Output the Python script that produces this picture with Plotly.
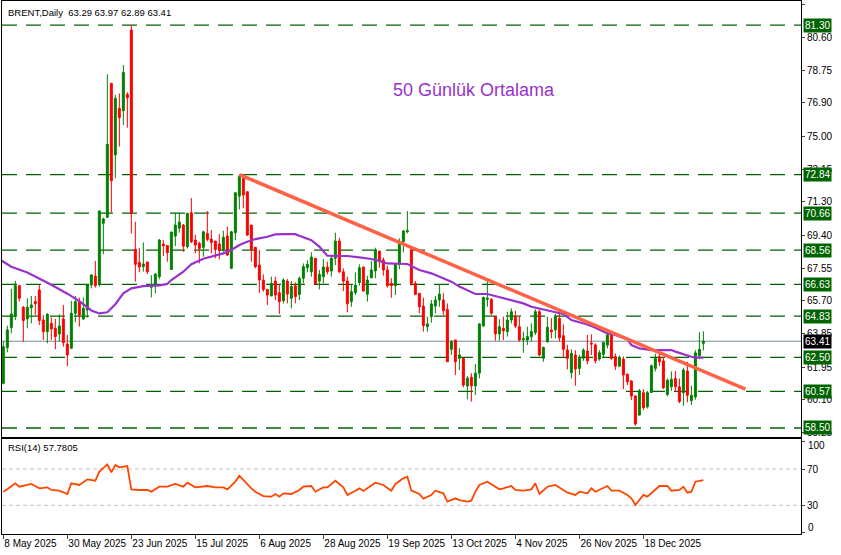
import plotly.graph_objects as go
from plotly.subplots import make_subplots

# ── data ─────────────────────────────────────────────────────────────────────
# one row per daily bar, bar 0 = 8 May 2025
OPEN = [61.03, 63.05, 64.18, 64.84, 66.55, 65.33, 64.67, 65.31, 65.65, 66.31,
        64.61, 63.95, 64.42, 64.14, 63.82, 64.67, 63.25, 63.01, 64.99, 65.65,
        64.67, 65.18, 66.59, 67.10, 66.63, 70.08, 70.42, 78.00, 73.95, 76.59,
        76.45, 77.38, 81.02, 68.61, 67.87, 67.63, 67.89, 66.46, 66.53, 67.06,
        68.91, 68.83, 67.47, 69.36, 69.81, 69.98, 68.76, 70.68, 69.13, 68.95,
        68.72, 69.51, 69.19, 69.08, 68.91, 68.60, 69.36, 67.53, 69.55, 71.62,
        72.62, 71.87, 69.98, 68.72, 67.72, 66.87, 66.34, 65.97, 66.81, 66.15,
        65.70, 66.81, 65.84, 66.55, 66.06, 66.97, 67.57, 67.34, 68.10, 66.81,
        67.06, 67.61, 67.38, 68.10, 69.08, 67.34, 66.81, 65.65, 66.16, 66.72,
        67.61, 66.06, 67.00, 67.38, 68.51, 68.00, 67.44, 66.68, 66.55, 67.76,
        69.04, 69.60, 68.57, 66.68, 66.12, 65.40, 64.23, 64.80, 65.40, 65.74,
        65.74, 65.21, 62.95, 63.48, 62.44, 62.44, 60.88, 61.37, 60.88, 61.60,
        64.27, 65.78, 65.78, 64.80, 63.82, 64.14, 63.95, 64.61, 64.80, 64.23,
        63.48, 63.48, 63.67, 63.90, 65.08, 62.44, 63.38, 64.05, 64.05, 64.70,
        63.72, 62.91, 61.63, 62.63, 61.87, 62.44, 62.85, 63.30, 63.20, 62.40,
        62.66, 63.19, 63.80, 62.53, 62.00, 62.40, 61.53, 61.16, 60.31, 59.23,
        60.50, 59.70, 60.51, 61.87, 62.53, 62.29, 60.40, 60.83, 61.30, 60.83,
        60.50, 61.72, 60.05, 60.25, 62.60, 63.29]
HIGH = [63.40, 64.29, 66.37, 66.82, 66.60, 65.40, 65.84, 65.97, 65.97, 66.63,
        64.89, 65.00, 64.76, 64.67, 64.93, 65.46, 63.76, 65.69, 65.97, 65.88,
        65.88, 66.60, 67.20, 67.95, 70.80, 70.40, 78.51, 78.00, 77.34, 77.43,
        79.04, 77.50, 81.30, 70.17, 68.67, 69.00, 67.90, 67.15, 67.25, 69.19,
        69.13, 68.83, 69.60, 70.68, 70.68, 70.04, 70.68, 71.51, 69.42, 69.04,
        69.66, 70.77, 69.70, 69.08, 69.47, 69.66, 69.89, 69.66, 71.81, 72.84,
        72.62, 71.87, 69.98, 68.72, 68.57, 67.19, 66.34, 67.06, 67.06, 66.59,
        66.97, 66.93, 66.81, 66.74, 67.06, 67.81, 68.00, 68.44, 68.10, 67.44,
        68.06, 67.91, 68.29, 69.55, 69.27, 67.53, 67.06, 66.59, 67.30, 67.76,
        67.61, 67.12, 67.95, 68.70, 68.51, 68.14, 67.68, 66.97, 67.81, 69.23,
        69.70, 70.77, 68.70, 66.81, 66.12, 65.87, 64.80, 65.74, 65.97, 66.59,
        66.12, 65.55, 63.48, 63.48, 63.01, 62.44, 61.44, 61.60, 62.12, 64.42,
        65.93, 66.87, 65.84, 64.80, 64.65, 64.80, 65.08, 65.27, 65.14, 64.80,
        63.95, 64.23, 64.42, 65.21, 65.21, 63.10, 64.80, 64.71, 64.95, 65.10,
        64.36, 63.20, 62.95, 62.90, 62.63, 63.00, 63.76, 63.80, 63.29, 62.90,
        63.38, 63.85, 63.85, 62.72, 62.60, 62.55, 61.60, 61.20, 60.35, 60.70,
        60.70, 60.60, 62.10, 62.70, 62.70, 62.50, 61.30, 61.70, 61.72, 61.30,
        61.90, 62.25, 60.90, 62.90, 63.92, 63.97]
LOW = [60.97, 62.78, 63.86, 64.61, 65.65, 63.38, 64.14, 64.42, 64.89, 64.33,
       63.48, 63.29, 63.48, 62.95, 63.38, 63.10, 61.99, 62.97, 64.48, 64.23,
       64.61, 64.74, 66.40, 66.44, 66.50, 68.33, 70.42, 70.70, 72.63, 74.42,
       75.64, 75.49, 69.51, 66.78, 67.31, 67.35, 67.21, 65.89, 66.12, 66.91,
       68.23, 67.91, 67.44, 68.79, 69.55, 68.47, 68.66, 68.95, 68.38, 67.81,
       68.19, 69.06, 68.38, 68.10, 68.04, 68.47, 68.23, 67.53, 69.13, 70.87,
       70.93, 69.36, 67.91, 67.53, 66.15, 66.21, 65.46, 65.97, 65.74, 64.95,
       65.55, 65.55, 65.27, 65.55, 65.74, 66.68, 67.31, 67.06, 66.59, 66.34,
       66.68, 67.19, 67.06, 67.72, 67.27, 66.25, 65.04, 65.36, 66.02, 66.55,
       66.21, 65.65, 66.97, 66.97, 67.57, 67.12, 66.44, 65.87, 66.02, 67.49,
       68.44, 69.51, 66.55, 66.02, 64.99, 63.95, 63.95, 64.46, 64.99, 65.36,
       64.89, 62.25, 62.63, 61.50, 61.78, 60.80, 60.12, 59.99, 60.37, 61.31,
       64.23, 65.36, 64.89, 63.44, 63.44, 63.48, 63.67, 64.42, 64.14, 63.38,
       62.76, 63.20, 63.38, 63.76, 62.57, 62.25, 63.33, 63.57, 63.57, 63.40,
       62.53, 61.82, 61.30, 60.89, 61.50, 62.30, 62.10, 62.63, 62.15, 62.30,
       62.50, 63.00, 62.35, 61.78, 61.95, 60.70, 60.93, 60.08, 58.63, 59.20,
       59.50, 59.60, 60.50, 61.70, 62.00, 60.70, 60.30, 60.60, 60.55, 59.90,
       59.75, 59.95, 59.80, 60.10, 62.40, 62.89]
CLOSE = [63.10, 64.05, 64.95, 66.55, 65.84, 64.58, 65.33, 65.46, 65.54, 64.58,
         63.95, 64.93, 64.10, 63.67, 64.27, 63.33, 62.63, 64.99, 65.65, 64.89,
         65.27, 66.59, 67.16, 66.55, 70.78, 70.33, 74.55, 72.49, 77.15, 76.06,
         78.62, 77.19, 70.65, 67.76, 67.61, 67.78, 67.34, 66.59, 67.21, 69.13,
         68.81, 68.42, 69.59, 69.98, 70.15, 68.79, 70.64, 69.04, 68.85, 68.66,
         69.60, 69.17, 69.00, 68.60, 68.57, 69.29, 68.29, 69.60, 71.81, 72.75,
         71.68, 69.42, 68.61, 67.63, 66.87, 66.34, 66.02, 66.68, 66.02, 65.65,
         66.87, 66.08, 66.50, 65.93, 66.97, 67.63, 67.76, 68.17, 66.63, 67.19,
         67.61, 67.34, 68.10, 69.08, 67.34, 66.81, 65.53, 66.21, 66.59, 67.57,
         66.25, 66.87, 67.44, 68.57, 67.95, 67.44, 66.55, 66.55, 67.76, 69.04,
         69.64, 69.66, 66.68, 66.06, 65.36, 64.29, 64.39, 65.52, 65.74, 66.08,
         65.14, 62.25, 63.38, 62.25, 62.63, 60.93, 61.31, 60.88, 61.60, 64.39,
         65.89, 65.84, 64.99, 63.82, 64.23, 63.99, 64.61, 65.08, 64.27, 63.48,
         63.55, 63.67, 63.95, 65.08, 62.63, 63.06, 64.20, 63.95, 64.80, 63.60,
         62.95, 62.44, 62.72, 61.84, 62.44, 62.91, 62.30, 63.25, 62.30, 62.76,
         63.33, 63.76, 62.44, 62.00, 62.50, 61.50, 61.12, 60.31, 58.72, 60.60,
         59.65, 60.50, 62.02, 62.44, 62.25, 60.78, 61.20, 61.25, 60.83, 60.00,
         61.78, 60.35, 60.35, 62.75, 62.95, 63.41]

# 50-day moving average, read at these bars
MA_BAR = [-1, 2, 6, 9, 12, 16, 19, 22, 24, 26, 28, 30, 32, 35, 39, 41, 42, 45,
          47, 50, 52, 55, 57, 59, 61, 63, 66, 68, 70, 73, 74, 77, 79, 81, 83,
          86, 89, 92, 94, 96, 101, 102, 104, 107, 109, 112, 114, 117, 118, 121,
          122, 125, 127, 130, 132, 135, 137, 140, 142, 146, 148, 151, 153, 156,
          157, 159, 162, 164, 167, 168, 170, 172, 173, 175]
MA_VAL = [68.05, 67.62, 67.30, 66.97, 66.60, 66.10, 65.68, 65.15, 64.98, 65.05,
          65.50, 66.12, 66.40, 66.53, 66.57, 66.65, 66.87, 67.34, 67.77, 68.08,
          68.19, 68.38, 68.57, 68.85, 69.04, 69.19, 69.32, 69.45, 69.47, 69.47,
          69.38, 69.13, 68.76, 68.25, 68.23, 68.23, 68.15, 68.06, 67.95, 67.81,
          67.78, 67.68, 67.44, 67.25, 67.06, 66.78, 66.50, 66.21, 66.08, 66.08,
          66.02, 65.84, 65.70, 65.55, 65.36, 65.21, 65.08, 64.95, 64.61, 64.36,
          64.17, 63.85, 63.76, 63.53, 63.19, 63.00, 62.91, 62.91, 62.91, 62.82,
          62.66, 62.53, 62.48, 62.48]

# RSI(14), read at these bars
RSI_BAR = [0, 1, 3, 4, 6, 7, 9, 11, 12, 14, 16, 17, 19, 21, 23, 24, 26, 27, 28,
           29, 31, 32, 34, 36, 37, 39, 41, 43, 45, 46, 48, 50, 51, 53, 55, 56,
           58, 59, 60, 62, 63, 65, 67, 68, 69, 70, 72, 74, 75, 77, 78, 80, 81,
           83, 85, 86, 88, 89, 90, 92, 93, 95, 97, 98, 100, 101, 102, 104, 105,
           107, 108, 110, 111, 113, 114, 116, 117, 118, 119, 121, 122, 124, 125,
           127, 128, 130, 132, 133, 134, 136, 138, 140, 141, 143, 144, 146, 147,
           148, 151, 152, 154, 156, 157, 158, 160, 161, 163, 164, 166, 167, 169,
           170, 171, 172, 173, 175]
RSI_VAL = [45.0, 47.6, 54.2, 50.5, 52.4, 53.5, 48.7, 49.8, 46.9, 46.1, 42.5,
           54.2, 52.4, 58.6, 57.1, 67.1, 75.1, 66.3, 74.4, 71.8, 73.3, 47.6,
           46.9, 46.9, 45.0, 50.5, 50.5, 53.5, 50.5, 54.9, 49.8, 50.5, 51.3,
           49.8, 49.8, 47.6, 56.0, 62.7, 57.9, 48.7, 45.0, 40.2, 39.5, 42.5,
           39.5, 43.2, 42.5, 46.9, 50.5, 51.3, 45.0, 49.8, 49.8, 57.1, 49.8,
           41.4, 46.1, 48.7, 45.8, 51.3, 54.9, 52.4, 46.1, 53.5, 59.7, 61.6,
           46.1, 42.5, 37.3, 41.4, 46.1, 43.2, 34.0, 37.7, 35.8, 34.0, 35.1,
           45.0, 52.4, 56.0, 53.5, 47.6, 48.7, 51.3, 46.9, 46.1, 47.6, 54.2,
           42.5, 50.5, 52.4, 46.9, 43.9, 41.4, 45.0, 43.2, 48.7, 45.0, 51.3,
           46.1, 46.1, 41.4, 37.7, 30.3, 41.4, 39.5, 47.6, 51.3, 51.3, 46.1,
           46.9, 50.5, 43.9, 45.0, 56.0, 57.7805]

# hand-drawn trend line (bar, price)
TREND_BAR = [59, 185.5]
TREND_VAL = [72.84, 60.7]

LEVELS = [81.30, 72.84, 70.66, 68.56, 66.63, 64.83, 62.50, 60.57, 58.50]
PRICE_TICKS = [82.45, 80.60, 78.75, 76.90, 75.00, 73.15, 71.30, 69.40, 67.55,
               65.70, 63.85, 61.95, 60.10, 58.25]
RSI_TICKS = [0, 30, 70, 100]
DATE_BARS = [0, 16, 32, 48, 64, 80, 96, 112, 128, 144, 160]
DATE_LABELS = ["8 May 2025", "30 May 2025", "23 Jun 2025", "15 Jul 2025",
               "6 Aug 2025", "28 Aug 2025", "19 Sep 2025", "13 Oct 2025",
               "4 Nov 2025", "26 Nov 2025", "18 Dec 2025"]

FONT = "Liberation Sans, Arial, sans-serif"
LEVEL_GREEN = "#006400"

# ── figure ───────────────────────────────────────────────────────────────────
bars = list(range(len(CLOSE)))
fig = make_subplots(rows=2, cols=1, shared_xaxes=True)

fig.add_trace(go.Candlestick(
    x=bars, open=OPEN, high=HIGH, low=LOW, close=CLOSE,
    increasing=dict(line=dict(color="#008000", width=1), fillcolor="#008000"),
    decreasing=dict(line=dict(color="#FF0000", width=1), fillcolor="#FF0000"),
    whiskerwidth=0, showlegend=False, hoverinfo="skip",
), row=1, col=1)

fig.add_trace(go.Scatter(x=MA_BAR, y=MA_VAL, mode="lines",
                         line=dict(color="#9932CC", width=2.2),
                         showlegend=False, hoverinfo="skip"), row=1, col=1)
fig.add_trace(go.Scatter(x=TREND_BAR, y=TREND_VAL, mode="lines",
                         line=dict(color="#FF6347", width=3.5),
                         showlegend=False, hoverinfo="skip"), row=1, col=1)
fig.add_trace(go.Scatter(x=RSI_BAR, y=RSI_VAL, mode="lines",
                         line=dict(color="#FF4500", width=1.8),
                         showlegend=False, hoverinfo="skip"), row=2, col=1)

# support / resistance levels
for lv in LEVELS:
    fig.add_shape(type="line", xref="x domain", yref="y", x0=0, x1=1, y0=lv, y1=lv,
                  line=dict(color=LEVEL_GREEN, width=1.3, dash="15px,9px"), layer="below")
    fig.add_annotation(xref="paper", yref="y", x=1, y=lv, xanchor="left", xshift=2,
                       text=f"{lv:.2f}", showarrow=False, bgcolor=LEVEL_GREEN,
                       borderpad=1, font=dict(family=FONT, size=10, color="white"))

# current price
last = CLOSE[-1]
fig.add_shape(type="line", xref="x domain", yref="y", x0=0, x1=1, y0=last, y1=last,
              line=dict(color="#778899", width=1), layer="below")
fig.add_annotation(xref="paper", yref="y", x=1, y=last, xanchor="left", xshift=2,
                   text=f"{last:.2f}", showarrow=False, bgcolor="black",
                   borderpad=1, font=dict(family=FONT, size=10, color="white"))

# rsi levels
for lv in (70, 30):
    fig.add_shape(type="line", xref="x2 domain", yref="y2", x0=0, x1=1, y0=lv, y1=lv,
                  line=dict(color="#C0C0C0", width=1, dash="4px,3px"), layer="below")

# MT4 keeps the end labels of the RSI scale inside the pane
for lv, shift in ((100, -4), (0, 5)):
    fig.add_annotation(xref="paper", yref="y2", x=1, y=lv, xanchor="left", xshift=5,
                       yshift=shift, text=str(lv), showarrow=False,
                       font=dict(family=FONT, size=10, color="black"))

fig.add_annotation(xref="paper", yref="paper", x=0, y=1, xanchor="left", yanchor="top",
                   xshift=4, yshift=-4, showarrow=False, align="left",
                   text=f"BRENT,Daily\u00a0\u00a0{OPEN[-1]:.2f} {HIGH[-1]:.2f} "
                        f"{LOW[-1]:.2f} {CLOSE[-1]:.2f}",
                   font=dict(family=FONT, size=9.5, color="black"))
fig.add_annotation(xref="x2 domain", yref="y2 domain", x=0, y=1, xanchor="left",
                   yanchor="top", xshift=4, yshift=-1, showarrow=False,
                   text=f"RSI(14) {RSI_VAL[-1]:.4f}",
                   font=dict(family=FONT, size=9.5, color="black"))
fig.add_annotation(xref="x", yref="y", x=117.7, y=77.62, showarrow=False,
                   text="50 Günlük Ortalama",
                   font=dict(family=FONT, size=18, color="#9932CC"))

axis_common = dict(showgrid=False, zeroline=False, showline=True, mirror=True,
                   linecolor="black", linewidth=1, automargin=False)
fig.update_layout(
    width=841, height=555,
    margin=dict(l=2, r=40, t=1, b=21),
    paper_bgcolor="white", plot_bgcolor="white",
    hovermode=False, showlegend=False,
    font=dict(family=FONT, size=10, color="black"),
    xaxis=dict(axis_common, range=[-0.33, 199.4], showticklabels=False,
               rangeslider=dict(visible=False), domain=[0, 1]),
    xaxis2=dict(axis_common, range=[-0.33, 199.4], tickvals=DATE_BARS,
                ticktext=DATE_LABELS, ticks="outside", ticklen=4, tickangle=0,
                ticklabelposition="outside right", tickfont=dict(size=10),
                domain=[0, 1]),
    yaxis=dict(axis_common, side="right", range=[57.99, 82.66], domain=[0.182, 1],
               tickvals=PRICE_TICKS, ticktext=[f"{v:.2f}" for v in PRICE_TICKS],
               ticks="outside", ticklen=3, tickfont=dict(size=10)),
    yaxis2=dict(axis_common, side="right", range=[-1.65, 103.1], domain=[0, 0.1782],
                tickvals=RSI_TICKS, ticktext=["", "30", "70", ""],
                ticks="outside", ticklen=3, tickfont=dict(size=10)),
)

# the page's default body margin would push the chart 8px off the window
fig.write_html("out.html", config={"displayModeBar": False},
               post_script="document.body.style.margin='0';")
